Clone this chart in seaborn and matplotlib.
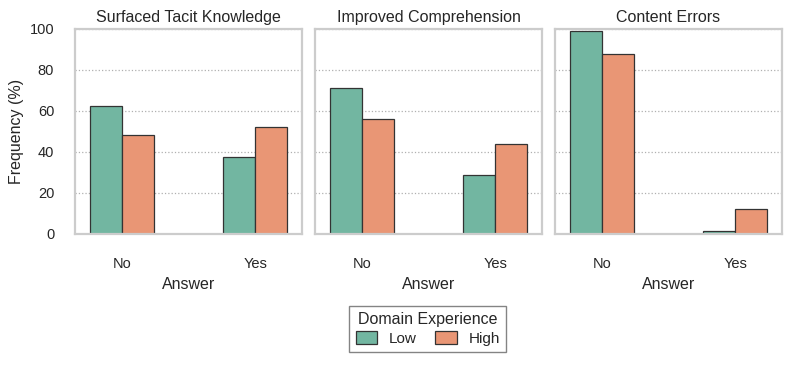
import numpy as np
import pandas as pd
import matplotlib
matplotlib.use("Agg")
import matplotlib.pyplot as plt
import seaborn as sns

panels = ["Surfaced Tacit Knowledge", "Improved Comprehension", "Content Errors"]
answers = ["No", "Yes"]
levels = ["Low", "High"]

# frequency (%) per panel: [Low No, Low Yes], [High No, High Yes]
low_vals = {
    "Surfaced Tacit Knowledge": [62.5, 37.5],
    "Improved Comprehension": [71.1, 28.9],
    "Content Errors": [98.8, 1.2],
}
high_vals = {
    "Surfaced Tacit Knowledge": [48.0, 52.0],
    "Improved Comprehension": [56.0, 44.0],
    "Content Errors": [88.0, 12.0],
}

rows = []
for p in panels:
    for a, v in zip(answers, low_vals[p]):
        rows.append((p, a, "Low", v))
    for a, v in zip(answers, high_vals[p]):
        rows.append((p, a, "High", v))
df = pd.DataFrame(rows, columns=["panel", "Answer", "Domain Experience", "freq"])

sns.set_theme(style="whitegrid")
plt.rcParams["font.family"] = ["Liberation Sans", "DejaVu Sans"]

fig, axes = plt.subplots(1, 3, figsize=(7.94, 3.66), dpi=100, sharey=True)
fig.subplots_adjust(left=0.0945, right=0.985, top=0.921, bottom=0.361, wspace=0.057)

for ax, p in zip(axes, panels):
    sns.barplot(data=df[df["panel"] == p], x="Answer", y="freq", hue="Domain Experience",
                hue_order=levels, order=answers, palette="Set2", width=0.48,
                edgecolor="#333333", linewidth=0.9, ax=ax, legend=False)
    ax.set_title(p, fontsize=11.5, pad=5)
    ax.set_ylim(0, 100)
    ax.set_xlim(-0.353, 1.353)
    ax.set_xlabel("Answer", fontsize=11.5)
    ax.set_ylabel("")
    ax.grid(axis="x", visible=False)
    ax.grid(axis="y", linestyle=":", color="#b0b0b0", linewidth=0.9)
    ax.set_axisbelow(True)
    for s in ax.spines.values():
        s.set_color("#cccccc")
        s.set_linewidth(1.6)
    ax.tick_params(axis="x", labelsize=10.5, pad=11)
    ax.tick_params(axis="y", labelsize=10.5, pad=9)

axes[0].set_ylabel("Frequency (%)", fontsize=11.5)
axes[0].set_yticks([0, 20, 40, 60, 80, 100])

handles = [plt.Rectangle((0, 0), 1, 1, facecolor=c, edgecolor="#333333", linewidth=0.9)
           for c in sns.color_palette("Set2", 2, desat=0.75)]
leg = fig.legend(handles, levels, title="Domain Experience", loc="upper center",
                 bbox_to_anchor=(0.539, 0.186), ncol=2, fontsize=11, title_fontsize=11.5,
                 frameon=True, fancybox=False, handlelength=1.4, handleheight=0.9,
                 columnspacing=1.2, handletextpad=0.8, borderpad=0.4, labelspacing=0.3)
leg.get_frame().set_edgecolor("#666666")
leg.get_frame().set_linewidth(1.0)

fig.savefig("out.png", dpi=100)
